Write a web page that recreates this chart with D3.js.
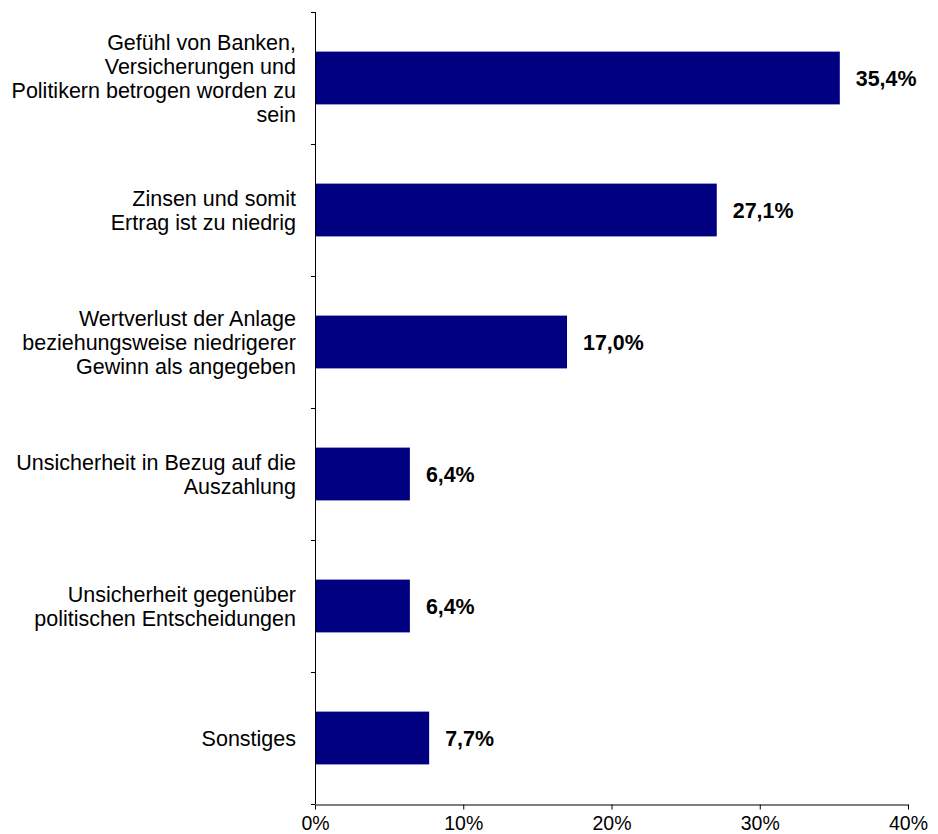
<!DOCTYPE html>
<html>
<head>
<meta charset="utf-8">
<script src="https://cdn.jsdelivr.net/npm/d3@7"></script>
<style>
  html, body { margin: 0; padding: 0; background: #fff; }
  svg { display: block; }
</style>
</head>
<body>
<div id="chart"></div>
<script>
// ---- data ----
const categories = [
  "Gefühl von Banken, Versicherungen und Politikern betrogen worden zu sein",
  "Zinsen und somit Ertrag ist zu niedrig",
  "Wertverlust der Anlage beziehungsweise niedrigerer Gewinn als angegeben",
  "Unsicherheit in Bezug auf die Auszahlung",
  "Unsicherheit gegenüber politischen Entscheidungen",
  "Sonstiges"
];
const categoryLines = [
  ["Gefühl von Banken,", "Versicherungen und", "Politikern betrogen worden zu", "sein"],
  ["Zinsen und somit", "Ertrag ist zu niedrig"],
  ["Wertverlust der Anlage", "beziehungsweise niedrigerer", "Gewinn als angegeben"],
  ["Unsicherheit in Bezug auf die", "Auszahlung"],
  ["Unsicherheit gegenüber", "politischen Entscheidungen"],
  ["Sonstiges"]
];
const values = [35.4, 27.1, 17.0, 6.4, 6.4, 7.7];
const valueLabels = ["35,4%", "27,1%", "17,0%", "6,4%", "6,4%", "7,7%"];
const xTicks = [0, 10, 20, 30, 40];
const xTickLabels = ["0%", "10%", "20%", "30%", "40%"];

// ---- layout ----
const W = 938, H = 834;
const plot = { left: 315, right: 908, top: 12, bottom: 804 };
const font = "'Liberation Sans', Arial, sans-serif";

const svg = d3.select("#chart").append("svg")
  .attr("width", W).attr("height", H);

const x = d3.scaleLinear().domain([0, 40]).range([plot.left, plot.right]);
const y = d3.scaleBand().domain(categories).range([plot.top, plot.bottom])
  .paddingInner(0.6).paddingOuter(0.3);

// bars
svg.append("g").selectAll("rect")
  .data(categories)
  .join("rect")
  .attr("x", x(0))
  .attr("y", d => y(d))
  .attr("width", (d, i) => x(values[i]) - x(0))
  .attr("height", y.bandwidth())
  .attr("fill", "#000080");

// value labels
svg.append("g").selectAll("text")
  .data(categories)
  .join("text")
  .attr("x", (d, i) => x(values[i]) + 16)
  .attr("y", d => y(d) + y.bandwidth() / 2 + 7.5)
  .attr("font-family", font)
  .attr("font-size", 21.4)
  .attr("font-weight", "bold")
  .attr("fill", "#000")
  .text((d, i) => valueLabels[i]);

// category labels
const lh = 24;
const catG = svg.append("g");
categories.forEach((c, i) => {
  const lines = categoryLines[i];
  const cy = y(c) + y.bandwidth() / 2;
  const t = catG.append("text")
    .attr("text-anchor", "end")
    .attr("font-family", font)
    .attr("font-size", 21.5)
    .attr("fill", "#000");
  lines.forEach((ln, j) => {
    t.append("tspan")
      .attr("x", 296)
      .attr("y", cy - (lines.length - 1) / 2 * lh + 7.5 + j * lh)
      .text(ln);
  });
});

// y axis line + ticks at band boundaries
const step = y.step();
const yAxisG = svg.append("g");
yAxisG.append("line")
  .attr("x1", plot.left + 0.5).attr("x2", plot.left + 0.5)
  .attr("y1", plot.top).attr("y2", plot.bottom)
  .attr("stroke", "#000").attr("stroke-width", 1);
const boundaries = categories.map(c => y(c) - step * y.paddingOuter()).concat([plot.bottom]);
yAxisG.selectAll("line.tick").data(boundaries).join("line")
  .attr("class", "tick")
  .attr("x1", plot.left - 4).attr("x2", plot.left)
  .attr("y1", d => Math.round(d) + 0.5).attr("y2", d => Math.round(d) + 0.5)
  .attr("stroke", "#000");

// x axis
const xAxis = d3.axisBottom(x)
  .tickValues(xTicks)
  .tickFormat((d, i) => xTickLabels[i])
  .tickSize(5)
  .tickSizeOuter(0);
const xg = svg.append("g")
  .attr("transform", `translate(0,${plot.bottom + 0.5})`)
  .call(xAxis);
xg.select(".domain").attr("stroke", "#000");
xg.selectAll(".tick line").attr("stroke", "#000");
xg.selectAll(".tick text")
  .attr("font-family", font)
  .attr("font-size", 19.5)
  .attr("fill", "#000")
  .attr("dy", null)
  .attr("y", 25);
</script>
</body>
</html>
